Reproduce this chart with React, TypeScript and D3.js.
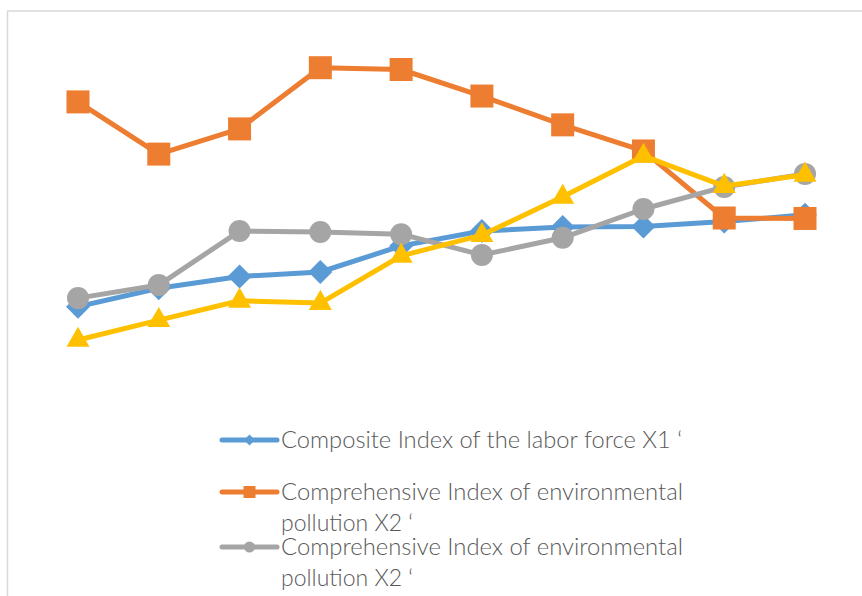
import React, { useEffect, useRef } from 'react';
import * as d3 from 'd3';

// ten periods along the x axis (no tick labels shown in the picture)
const periods = ['1', '2', '3', '4', '5', '6', '7', '8', '9', '10'];

const laborX1 = [0.363, 0.404, 0.430, 0.440, 0.498, 0.531, 0.540, 0.541, 0.552, 0.567];
const pollutionX2 = [0.818, 0.702, 0.758, 0.894, 0.890, 0.831, 0.767, 0.709, 0.560, 0.559];
const pollutionX2b = [0.382, 0.411, 0.531, 0.529, 0.524, 0.478, 0.516, 0.580, 0.629, 0.658];
const series4 = [0.289, 0.333, 0.376, 0.371, 0.476, 0.522, 0.607, 0.698, 0.631, 0.656];

const legendLabels = [
  ['Composite Index of the labor force X1 \u2018'],
  ['Comprehensive Index of environmental', 'pollution X2 \u2018'],
  ['Comprehensive Index of environmental', 'pollution X2 \u2018'],
];

const W = 862, H = 596;

const App = () => {
  const svgRef = useRef<SVGSVGElement>(null);

  useEffect(() => {
    const svg = d3.select(svgRef.current);
    svg.selectAll('*').remove();

    // chart border
    svg.append('rect')
      .attr('x', 7.5).attr('y', 11)
      .attr('width', W + 20).attr('height', H + 20)
      .attr('fill', 'white')
      .attr('stroke', '#d9d9d9')
      .attr('stroke-width', 1.5);

    const x = d3.scalePoint().domain(periods).range([78, 805]);
    const y = d3.scaleLinear().domain([0.2, 1.0]).range([380, 20]);

    const diamond = (r) => `M0,${-r}L${r},0L0,${r}L${-r},0Z`;
    const square = (r) => `M${-r},${-r}H${r}V${r}H${-r}Z`;
    const circle = (r) => d3.symbol().type(d3.symbolCircle).size(Math.PI * r * r)();
    const triangle = (r) => `M0,${-r * 1.15}L${r},${r * 0.6}L${-r},${r * 0.6}Z`;

    const series = [
      { vals: laborX1, color: '#5B9BD5', marker: diamond, r: 12, lr: 5.5 },
      { vals: pollutionX2, color: '#ED7D31', marker: square, r: 11.5, lr: 6 },
      { vals: pollutionX2b, color: '#A5A5A5', marker: circle, r: 11, lr: 5.5 },
      { vals: series4, color: '#FFC000', marker: triangle, r: 11.5, lr: 5.5 },
    ];

    const line = d3.line<number>()
      .x((d, i) => x(periods[i]))
      .y(d => y(d));

    series.forEach(s => {
      const g = svg.append('g');
      g.append('path')
        .attr('d', line(s.vals))
        .attr('fill', 'none')
        .attr('stroke', s.color)
        .attr('stroke-width', 5)
        .attr('stroke-linejoin', 'round');
      g.selectAll('.m')
        .data(s.vals)
        .enter()
        .append('path')
        .attr('transform', (d, i) => `translate(${x(periods[i])},${y(d)})`)
        .attr('d', s.marker(s.r))
        .attr('fill', s.color);
    });

    // legend (only three entries visible)
    const legendY = [440, 492, 547];
    const lineW = { 'Composite Index of the labor force X1 \u2018': 401, 'Comprehensive Index of environmental': 402, 'pollution X2 \u2018': 132 };
    legendLabels.forEach((lines, k) => {
      const s = series[k];
      const g = svg.append('g').attr('transform', `translate(0,${legendY[k]})`);
      g.append('line')
        .attr('x1', 222).attr('x2', 277)
        .attr('stroke', s.color)
        .attr('stroke-width', 5)
        .attr('stroke-linecap', 'round');
      g.append('path')
        .attr('transform', 'translate(249.5,0)')
        .attr('d', s.marker(s.lr))
        .attr('fill', s.color);
      lines.forEach((t, j) => {
        g.append('text')
          .attr('x', 281)
          .attr('y', 8 + j * 31)
          .attr('font-family', 'Lato, "Noto Sans", sans-serif')
          .attr('font-weight', 300)
          .attr('font-size', 23)
          .attr('fill', '#595959')
          .attr('textLength', lineW[t])
          .attr('lengthAdjust', 'spacingAndGlyphs')
          .text(t);
      });
    });
  }, []);

  return (
    <div style={{ position: 'absolute', left: 0, top: 0 }}>
      <svg ref={svgRef} width={W} height={H} style={{ display: 'block' }}></svg>
    </div>
  );
};

export default App;
